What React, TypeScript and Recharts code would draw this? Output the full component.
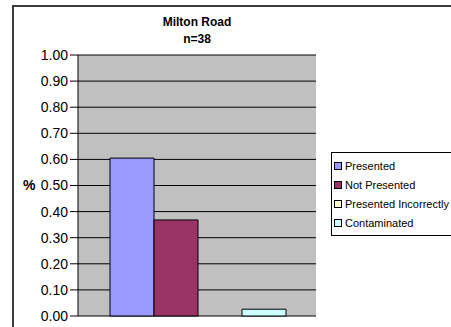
import React from 'react';
import { BarChart, Bar, XAxis, YAxis, CartesianGrid } from 'recharts';

// Share of 38 samples at Milton Road by outcome
const categories = ['Milton Road'];
const seriesNames = ['Presented', 'Not Presented', 'Presented Incorrectly', 'Contaminated'];
const seriesValues = [0.605, 0.368, 0, 0.026];
const seriesColors = ['#9999FF', '#993366', '#FFFFCC', '#CCFFFF'];
const yTicks = [0, 0.1, 0.2, 0.3, 0.4, 0.5, 0.6, 0.7, 0.8, 0.9, 1];

const rows = categories.map((name) => {
  const row: Record<string, any> = { name };
  seriesNames.forEach((s, i) => {
    row[s] = seriesValues[i];
  });
  return row;
});

const FONT = 'Arial, "Liberation Sans", sans-serif';

const App: React.FC = () => {
  return (
    <div
      style={{
        position: 'absolute',
        left: 0,
        top: 0,
        width: 451,
        height: 327,
        overflow: 'hidden',
        background: '#fff',
        fontFamily: FONT,
      }}
    >
      {/* chart frame, runs off the right and bottom edges */}
      <div
        style={{
          position: 'absolute',
          left: 12,
          top: 5,
          width: 600,
          height: 600,
          border: '2px solid #3c3c3c',
        }}
      />
      <div
        style={{
          position: 'absolute',
          left: 97,
          width: 200,
          top: 14,
          textAlign: 'center',
          fontWeight: 'bold',
          fontSize: 12,
          lineHeight: '17px',
          color: '#000',
        }}
      >
        <div>Milton Road</div>
        <div>n=38</div>
      </div>
      <div style={{ position: 'absolute', left: 0, top: 0 }}>
        <BarChart
          width={451}
          height={327}
          data={rows}
          margin={{ top: 55, right: 135, bottom: 11, left: 0 }}
          barCategoryGap={32}
          barGap={0}
        >
          <CartesianGrid vertical={false} stroke="#000" fill="#C0C0C0" />
          <XAxis dataKey="name" hide />
          <YAxis
            width={78}
            domain={[0, 1]}
            ticks={yTicks}
            interval={0}
            tickSize={8}
            tickFormatter={(v: number) => v.toFixed(2)}
            tick={{ fill: '#000', fontSize: 14, fontFamily: FONT }}
            axisLine={{ stroke: '#000' }}
            tickLine={{ stroke: '#000' }}
            label={{
              value: '%',
              position: 'insideLeft',
              offset: 23,
              fill: '#000',
              fontSize: 14,
              fontWeight: 'bold',
              fontFamily: FONT,
            }}
          />
          {seriesNames.map((s, i) => (
            <Bar
              key={s}
              dataKey={s}
              fill={seriesColors[i]}
              stroke="#000"
              strokeWidth={1}
              isAnimationActive={false}
            />
          ))}
        </BarChart>
      </div>
      {/* legend box */}
      <div
        style={{
          position: 'absolute',
          left: 331,
          top: 152,
          width: 130,
          height: 84,
          border: '1px solid #000',
          background: '#fff',
          paddingTop: 3,
          boxSizing: 'border-box',
        }}
      >
        {seriesNames.map((s, i) => (
          <div
            key={s}
            style={{
              display: 'flex',
              alignItems: 'center',
              height: 19,
              fontSize: 11,
              color: '#000',
              whiteSpace: 'nowrap',
            }}
          >
            <span
              style={{
                display: 'inline-block',
                width: 6,
                height: 6,
                marginLeft: 2,
                marginRight: 3,
                background: seriesColors[i],
                border: '1px solid #000',
              }}
            />
            {s}
          </div>
        ))}
      </div>
    </div>
  );
};

export default App;
